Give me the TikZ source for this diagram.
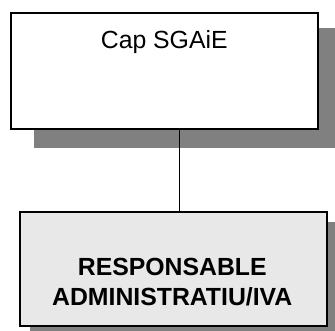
\documentclass[tikz,border=0pt]{standalone}
\usepackage{fontspec}
\setmainfont{Liberation Sans}
\usetikzlibrary{backgrounds}
\definecolor{shadowgray}{HTML}{808080}
\definecolor{boxfill}{HTML}{E8E8E8}
\tikzset{
  orgbox/.style={draw=black, line width=1.5pt, inner sep=0pt, anchor=north west},
  shadowfill/.style={fill=shadowgray},
  link/.style={draw=black, line width=1pt},
  boxtext/.style={inner sep=0pt, anchor=north, align=center, font=\fontsize{24.8}{30}\selectfont}
}
\begin{document}
\begin{tikzpicture}[x=1pt, y=-1pt]
\useasboundingbox (0,0) rectangle (335,330);
\clip (0,0) rectangle (335,330);
\node (cap) [orgbox, fill=white, minimum width=307pt, minimum height=116pt] at (10,12) {};
\node (resp) [orgbox, fill=boxfill, minimum width=307pt, minimum height=114pt] at (19,211) {};
\node (captext) [boxtext] at ([yshift=-18pt]cap.north) {Cap SGAiE};
\node (resptext) [boxtext, font=\bfseries\fontsize{24.8}{30}\selectfont] at ([xshift=-1pt, yshift=-47pt]resp.north) {RESPONSABLE\\ADMINISTRATIU/IVA};
\begin{scope}[on background layer]
  \fill[shadowfill] ([xshift=24pt, yshift=-16pt]cap.north west) rectangle ([xshift=24pt, yshift=-18pt]cap.south east);
  \fill[shadowfill] ([xshift=11pt, yshift=-11pt]resp.north west) rectangle ([xshift=11pt, yshift=-11pt]resp.south east);
  \draw[link] (cap.south -| 179,0) -- (resp.north -| 179,0);
\end{scope}
\end{tikzpicture}
\end{document}
